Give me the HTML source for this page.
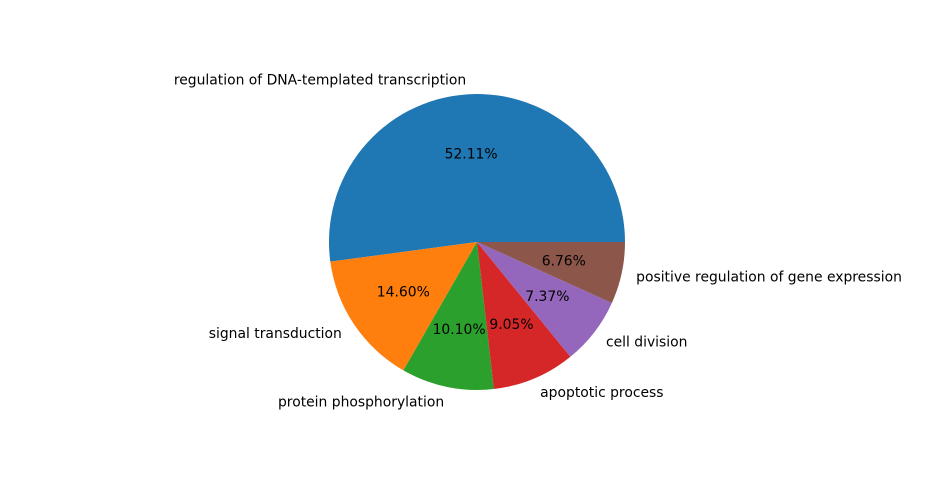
<!DOCTYPE html>
<html>
<head>
<meta charset="utf-8">
<style>
  html,body{margin:0;padding:0;background:#fff;}
  svg{display:block;font-family:"DejaVu Sans","Liberation Sans",sans-serif;}
</style>
</head>
<body>
<svg id="chart" width="930" height="480" viewBox="0 0 930 480"></svg>
<script>
const categories = ["regulation of DNA-templated transcription","signal transduction","protein phosphorylation","apoptotic process","cell division","positive regulation of gene expression"];
const values = [52.11, 14.60, 10.10, 9.05, 7.37, 6.76];
const pctLabels = ["52.11%","14.60%","10.10%","9.05%","7.37%","6.76%"];
const colors = ["#1f77b4","#ff7f0e","#2ca02c","#d62728","#9467bd","#8c564b"];

const svg = document.getElementById('chart');
const NS = "http://www.w3.org/2000/svg";
const cx = 477, cy = 242, r = 148;
const total = values.reduce((a,b)=>a+b,0);
function pt(angDeg, rad){ const a = angDeg*Math.PI/180; return [cx + rad*Math.cos(a), cy - rad*Math.sin(a)]; }

let start = 0;
values.forEach((v,i)=>{
  const sweep = v/total*360;
  const end = start + sweep;
  const [x1,y1] = pt(start,r), [x2,y2] = pt(end,r);
  const large = sweep > 180 ? 1 : 0;
  const p = document.createElementNS(NS,'path');
  p.setAttribute('d',`M${cx},${cy} L${x1},${y1} A${r},${r} 0 ${large} 0 ${x2},${y2} Z`);
  p.setAttribute('fill',colors[i]);
  
  
  svg.appendChild(p);

  const mid = start + sweep/2;
  const [lx,ly] = pt(mid, r*1.1);
  const t = document.createElementNS(NS,'text');
  t.setAttribute('x',lx); t.setAttribute('y',ly+1);
  t.setAttribute('font-size','13.9');
  t.setAttribute('dominant-baseline','central');
  t.setAttribute('text-anchor', lx >= cx ? 'start' : 'end');
  t.textContent = categories[i];
  
  
  svg.appendChild(t);

  const [px,py] = pt(mid, r*0.6);
  const tp = document.createElementNS(NS,'text');
  tp.setAttribute('x',px); tp.setAttribute('y',py+1);
  tp.setAttribute('font-size','13.9');
  tp.setAttribute('dominant-baseline','central');
  tp.setAttribute('text-anchor','middle');
  tp.textContent = pctLabels[i];
  
  
  svg.appendChild(tp);

  start = end;
});
</script>
</body>
</html>
